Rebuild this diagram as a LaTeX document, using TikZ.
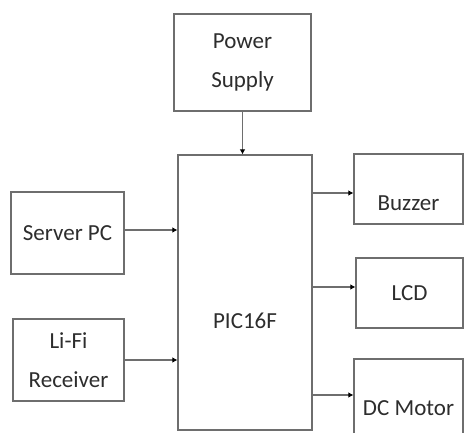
\documentclass[tikz,border=0pt]{standalone}
\usepackage{xcolor}
\usepackage{fontspec}
\setmainfont{Carlito}
\usepackage{tikz}
\usetikzlibrary{arrows.meta, positioning, calc}
\definecolor{boxgray}{RGB}{110,110,110}
\definecolor{txtgray}{RGB}{45,45,45}
\tikzset{
  block/.style={rectangle, draw=boxgray, fill=white, line width=0.6pt,
    align=center, inner sep=0pt, text=txtgray,
    font=\fontsize{11.5}{19.5}\selectfont},
  arrow/.style={-{Latex[length=2.5pt, width=2.8pt, color=black]}, line width=0.6pt, color=boxgray},
}
\begin{document}
\begin{tikzpicture}[x=0.5pt, y=-0.5pt]
  \useasboundingbox (0,0) rectangle (464,432);
  \clip (0,0) rectangle (464,432);

  % Controller and supply
  \node[block, minimum width=68.5pt, minimum height=48.5pt] (power) at (242.5,62.5) {Power\\Supply};
  \node[block, minimum width=67pt, minimum height=137.5pt,
    label={[block, draw=none, fill=none, yshift=-14pt]center:PIC16F}] (pic) at (245,292.5) {};

  % Inputs
  \node[block, minimum width=56.5pt, minimum height=41pt] (server) at (67.5,233) {Server PC};
  \node[block, minimum width=55.5pt, minimum height=41pt] (lifi) at (68.5,360) {Li-Fi\\Receiver};

  % Outputs
  \node[block, minimum width=54.5pt, minimum height=35pt,
    label={[block, draw=none, fill=none, yshift=-7pt]center:Buzzer}] (buzzer) at (408.5,189) {};
  \node[block, minimum width=53.5pt, minimum height=35pt] (lcd) at (409.5,293) {LCD};
  \node[block, minimum width=54.5pt, minimum height=49pt] (motor) at (408.5,408) {DC Motor};

  % Connections
  \draw[arrow] (power.south) -- (power.south |- pic.north);
  \draw[arrow] ([yshift=1.5pt]server.east) -- ([yshift=1.5pt]server.east -| pic.west);
  \draw[arrow] (lifi.east) -- (lifi.east -| pic.west);
  \draw[arrow] ([yshift=-2pt]buzzer.west -| pic.east) -- ([yshift=-2pt]buzzer.west);
  \draw[arrow] ([yshift=3pt]lcd.west -| pic.east) -- ([yshift=3pt]lcd.west);
  \draw[arrow] ([yshift=6.5pt]motor.west -| pic.east) -- ([yshift=6.5pt]motor.west);
\end{tikzpicture}
\end{document}
